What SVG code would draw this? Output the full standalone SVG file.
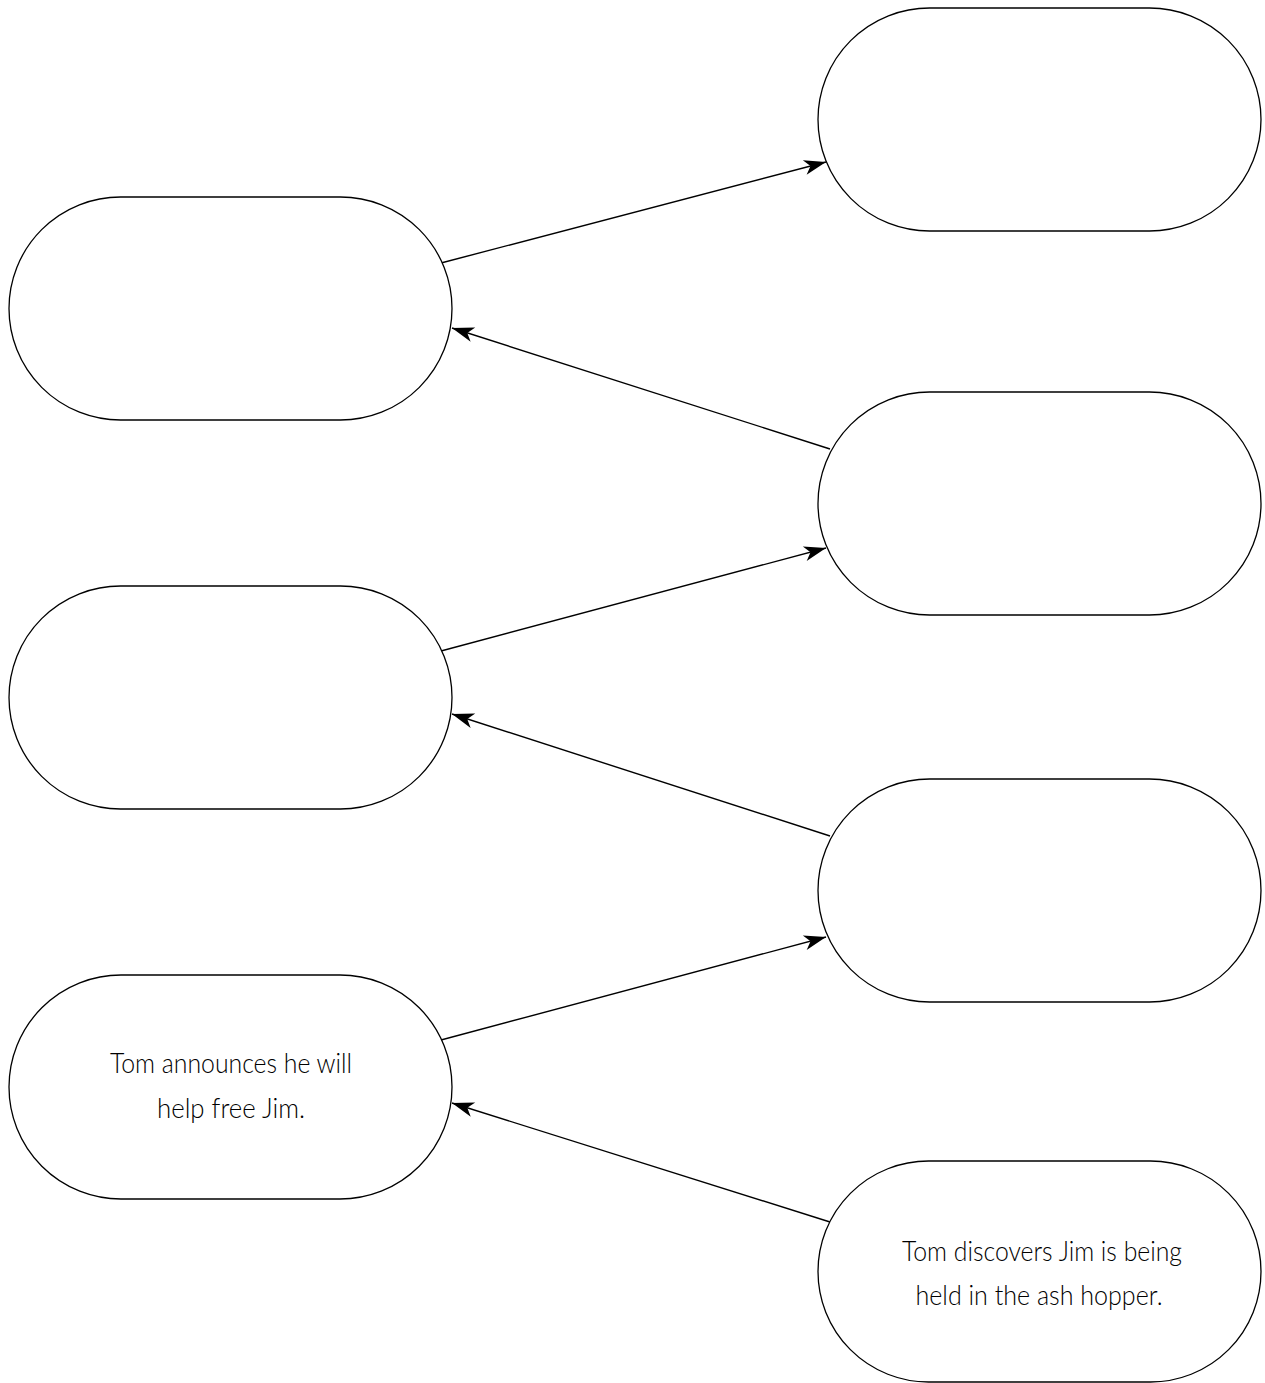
<svg xmlns="http://www.w3.org/2000/svg" width="1265" height="1383" viewBox="0 0 1265 1383">
<style>
.node{fill:#fff;stroke:#000;stroke-width:1.3}
.edge{fill:none;stroke:#000;stroke-width:1.4;marker-end:url(#ah)}
.lbl{font-family:Lato,"Liberation Sans",sans-serif;font-weight:300;font-size:28px;fill:#000;text-anchor:middle}
</style>
<defs>
<marker id="ah" markerUnits="userSpaceOnUse" markerWidth="30" markerHeight="20" viewBox="-24 -10 26 20" refX="0" refY="0" orient="auto">
<path d="M0,0 L-22,-7.5 L-16,0 L-22,7.5 Z" fill="#000"/>
</marker>
</defs>
<rect width="1265" height="1383" fill="#fff"/>
<g id="connectors">
<line class="edge" x1="441" y1="263" x2="826" y2="162"/>
<line class="edge" x1="830" y1="449" x2="452" y2="328"/>
<line class="edge" x1="441" y1="651" x2="826" y2="548"/>
<line class="edge" x1="830" y1="836" x2="452" y2="714"/>
<line class="edge" x1="441" y1="1040" x2="826" y2="937"/>
<line class="edge" x1="830" y1="1222" x2="452" y2="1103"/>
</g>
<g id="n1"><rect class="node" x="9" y="197" width="443" height="223" rx="111.5" ry="111.5"/></g>
<g id="n2"><rect class="node" x="9" y="586" width="443" height="223" rx="111.5" ry="111.5"/></g>
<g id="n3"><rect class="node" x="9" y="975" width="443" height="224" rx="112" ry="112"/>
<text class="lbl" x="231" y="1073" textLength="242" lengthAdjust="spacingAndGlyphs">Tom announces he will</text>
<text class="lbl" x="231" y="1118" textLength="148" lengthAdjust="spacingAndGlyphs">help free Jim.</text></g>
<g id="n4"><rect class="node" x="818" y="8" width="443" height="223" rx="111.5" ry="111.5"/></g>
<g id="n5"><rect class="node" x="818" y="392" width="443" height="223" rx="111.5" ry="111.5"/></g>
<g id="n6"><rect class="node" x="818" y="779" width="443" height="223" rx="111.5" ry="111.5"/></g>
<g id="n7"><rect class="node" x="818" y="1161" width="443" height="221" rx="110.5" ry="110.5"/>
<text class="lbl" x="1042" y="1261" textLength="280" lengthAdjust="spacingAndGlyphs">Tom discovers Jim is being</text>
<text class="lbl" x="1039" y="1305" textLength="247" lengthAdjust="spacingAndGlyphs">held in the ash hopper.</text></g>
</svg>
